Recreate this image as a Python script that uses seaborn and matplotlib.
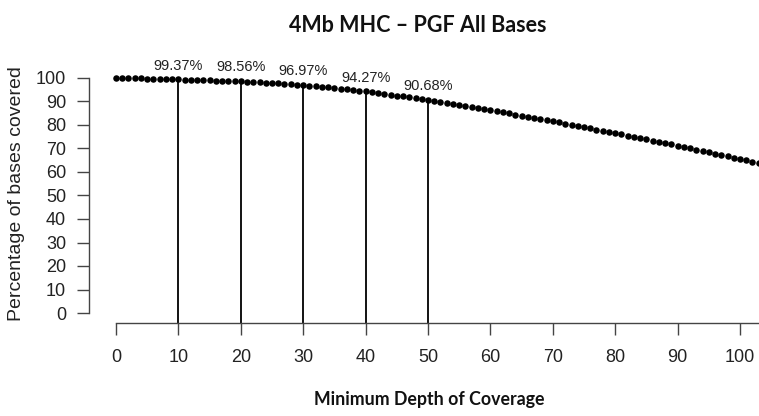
import matplotlib
matplotlib.use("Agg")
import matplotlib.pyplot as plt
import seaborn as sns
import pandas as pd

depth = list(range(0, 104))
pct_covered = [
    100.00, 99.95, 99.90, 99.85, 99.80, 99.74, 99.67, 99.60, 99.53, 99.45,
    99.37, 99.30, 99.23, 99.16, 99.08, 99.00, 98.92, 98.84, 98.75, 98.66,
    98.56, 98.45, 98.33, 98.20, 98.06, 97.91, 97.75, 97.58, 97.40, 97.19,
    96.97, 96.75, 96.52, 96.28, 96.03, 95.77, 95.50, 95.22, 94.93, 94.61,
    94.27, 93.93, 93.59, 93.24, 92.88, 92.52, 92.16, 91.80, 91.43, 91.06,
    90.68, 90.26, 89.84, 89.41, 88.98, 88.55, 88.11, 87.67, 87.22, 86.77,
    86.32, 85.86, 85.40, 84.93, 84.46, 83.99, 83.51, 83.03, 82.55, 82.06,
    81.57, 81.08, 80.58, 80.08, 79.58, 79.08, 78.57, 78.06, 77.55, 77.04,
    76.52, 76.00, 75.47, 74.94, 74.41, 73.88, 73.34, 72.80, 72.26, 71.72,
    71.17, 70.62, 70.06, 69.50, 68.94, 68.38, 67.81, 67.24, 66.67, 66.10,
    65.52, 64.94, 64.36, 63.78,
]
marked_depths = [10, 20, 30, 40, 50]
marked_pct = [99.37, 98.56, 96.97, 94.27, 90.68]
marked_labels = ["99.37%", "98.56%", "96.97%", "94.27%", "90.68%"]
x_ticks = [0, 10, 20, 30, 40, 50, 60, 70, 80, 90, 100]
y_ticks = [0, 10, 20, 30, 40, 50, 60, 70, 80, 90, 100]

title = "4Mb MHC \u2013 PGF All Bases"
xlabel = "Minimum Depth of Coverage"
ylabel = "Percentage of bases covered"

sns.set_style("ticks")
plt.rcParams["font.family"] = ["Liberation Sans", "DejaVu Sans"]

W, H = 759, 416
fig = plt.figure(figsize=(W / 100, H / 100), dpi=100)
ax = fig.add_axes([89 / W, (H - 323) / H, (W - 89) / W, (323 - 60) / H])

df = pd.DataFrame({"depth": depth, "pct": pct_covered})
sns.scatterplot(data=df, x="depth", y="pct", ax=ax, color="black", s=22,
                linewidth=0, legend=False, zorder=3)

ymin = -(323 - 313) / 2.35

ax.set_xticks(x_ticks)
ax.set_yticks(y_ticks)
ax.set_xticklabels([str(t) for t in x_ticks])
ax.set_yticklabels([str(t) for t in y_ticks])
ax.set_xlim(-27 / 6.24, (W - 116) / 6.24)
ax.set_ylim(ymin, (313 - 60) / 2.35)

ax.vlines(marked_depths, ymin, marked_pct, color="black", linewidth=1.3, zorder=2)
for xd, yv, lab in zip(marked_depths, marked_pct, marked_labels):
    ax.annotate(lab, (xd, yv), xytext=(0, 10), textcoords="offset points",
                ha="center", va="center", fontsize=10.5, color="#222222")

ax.tick_params(axis="both", length=8.5, width=1.0, color="#444444",
               labelsize=13, labelcolor="#222222")
ax.tick_params(axis="y", pad=8)
ax.tick_params(axis="x", pad=10)

for side in ["top", "right"]:
    ax.spines[side].set_visible(False)
ax.spines["left"].set_bounds(0, 100)
ax.spines["bottom"].set_bounds(0, 120)
for side in ["left", "bottom"]:
    ax.spines[side].set_linewidth(1.0)
    ax.spines[side].set_color("#444444")

ax.set_xlabel("")
ax.set_ylabel("")
fig.text(17 / W, 1 - 194 / H, ylabel, rotation=90, ha="center", va="center",
         fontsize=14, color="#222222")
fig.text(418 / W, 1 - 26 / H, title, ha="center", va="center",
         fontsize=15.5, fontweight="bold", family=["Lato", "DejaVu Sans"],
         color="#111111")
fig.text(429 / W, 1 - 400 / H, xlabel, ha="center", va="center",
         fontsize=12.8, fontweight="bold", family=["Lato", "DejaVu Sans"],
         color="#111111")

fig.savefig("out.png", dpi=100)
